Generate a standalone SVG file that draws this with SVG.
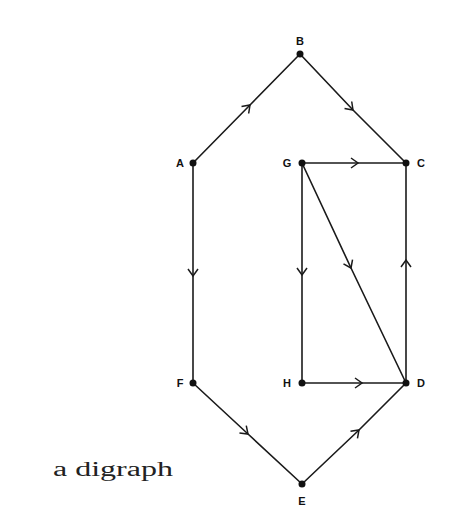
<svg xmlns="http://www.w3.org/2000/svg" width="460" height="518" viewBox="0 0 460 518">
<style>
.e{fill:none;stroke:#1a1a1a;stroke-width:1.6;marker-mid:url(#ch)}
.n{fill:#111}
.l{font-family:"Liberation Sans",Arial,sans-serif;font-weight:bold;font-size:11px;fill:#111}
.cap{font-family:"Liberation Serif","Times New Roman",serif;font-size:20px;fill:#222}
</style>
<defs>
<marker id="ch" viewBox="-8 -6 10 12" markerWidth="10" markerHeight="12" markerUnits="userSpaceOnUse" orient="auto" refX="0" refY="0">
<polyline points="-7,-5 0,0 -7,5" fill="none" stroke="#1a1a1a" stroke-width="1.5"/>
</marker>
</defs>
<rect width="460" height="518" fill="#fff"/>
<g id="connectors">
<path class="e" d="M193,163 L250,105 L300,54"/>
<path class="e" d="M300,54 L353,110 L406,163"/>
<path class="e" d="M302,163 L358,163 L406,163"/>
<path class="e" d="M302,163 L351,268 L406,383"/>
<path class="e" d="M302,163 L302,275 L302,383"/>
<path class="e" d="M406,383 L406,260 L406,163"/>
<path class="e" d="M193,163 L193,276 L193,383"/>
<path class="e" d="M302,383 L362,383 L406,383"/>
<path class="e" d="M193,383 L248,434 L302,484"/>
<path class="e" d="M302,484 L359,430 L406,383"/>
</g>
<g id="B"><circle class="n" cx="300" cy="54" r="3.5"/><text class="l" x="300" y="45" text-anchor="middle">B</text></g>
<g id="A"><circle class="n" cx="193" cy="163" r="3.5"/><text class="l" x="180" y="167" text-anchor="middle">A</text></g>
<g id="G"><circle class="n" cx="302" cy="163" r="3.5"/><text class="l" x="287" y="167" text-anchor="middle">G</text></g>
<g id="C"><circle class="n" cx="406" cy="163" r="3.5"/><text class="l" x="421" y="167" text-anchor="middle">C</text></g>
<g id="F"><circle class="n" cx="193" cy="383" r="3.5"/><text class="l" x="180" y="387" text-anchor="middle">F</text></g>
<g id="H"><circle class="n" cx="302" cy="383" r="3.5"/><text class="l" x="287" y="387" text-anchor="middle">H</text></g>
<g id="D"><circle class="n" cx="406" cy="383" r="3.5"/><text class="l" x="421" y="387" text-anchor="middle">D</text></g>
<g id="E"><circle class="n" cx="302" cy="484" r="3.5"/><text class="l" x="302" y="505" text-anchor="middle">E</text></g>
<text class="cap" x="53" y="476" textLength="120" lengthAdjust="spacingAndGlyphs">a digraph</text>
</svg>
